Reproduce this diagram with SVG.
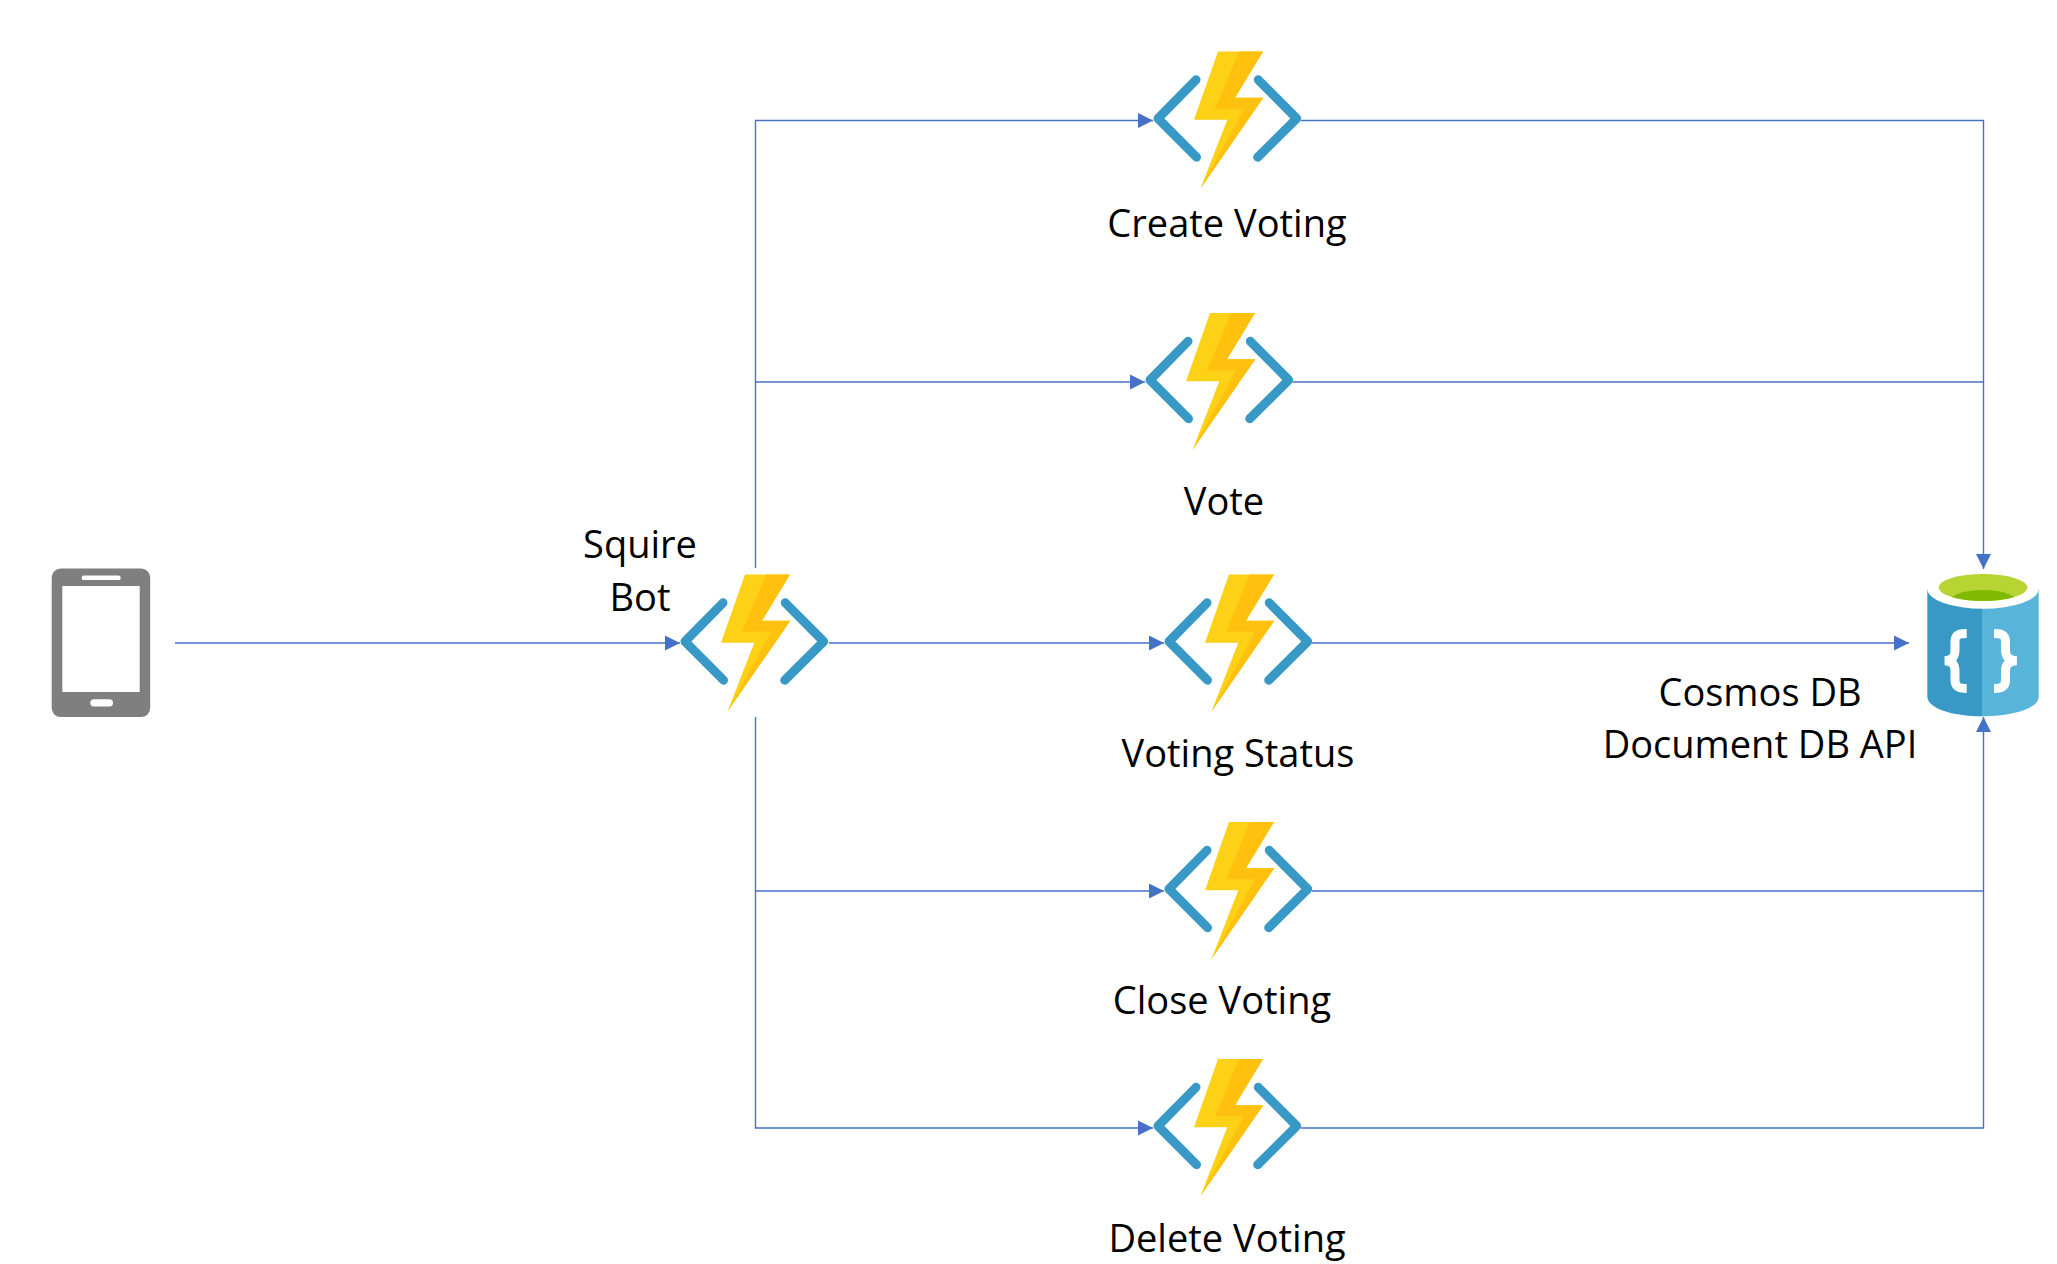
<svg xmlns="http://www.w3.org/2000/svg" width="2057" height="1264" viewBox="0 0 2057 1264">
<style>
.c{fill:none;stroke:#4472c4;stroke-width:1.4;marker-end:url(#a)}
.n{fill:none;stroke:#4472c4;stroke-width:1.4}
.t{font-family:"Open Sans","Noto Sans",sans-serif;font-size:38px;fill:#000;text-anchor:middle}
.b{fill:none;stroke:#3999c6;stroke-width:9;stroke-linecap:round;stroke-linejoin:round}
.w{fill:none;stroke:#fff;stroke-width:9}
</style>
<defs>
<marker id="a" markerUnits="userSpaceOnUse" markerWidth="15" markerHeight="16" refX="15" refY="8" orient="auto"><path d="M0 0.5L15 8L0 15.5Z" fill="#4472c4"/></marker>
<g id="fn">
<path class="b" d="M43 -38.7L5 0L43.5 38.7M105.3 -38.7L143.7 0L104.7 38.7"/>
<path d="M65 -67H110L82 -20.7H110.3L47.5 70L74.3 1.3H41Z" fill="#fcd116"/>
<path d="M86 -67H110L82 -20.7H110.3L47.5 70L91 -9.7H62Z" fill="#ffc10d"/>
</g>
<clipPath id="gc"><ellipse cx="1983" cy="587.5" rx="44.3" ry="13.5"/></clipPath>
</defs>
<rect width="2057" height="1264" fill="#fff"/>
<g id="connectors">
<path class="c" d="M175 643H680"/>
<path class="c" d="M755.5 568V120.5H1153"/>
<path class="c" d="M755.5 382H1145"/>
<path class="c" d="M829 643H1164"/>
<path class="c" d="M755.5 717V1128H1153"/>
<path class="c" d="M755.5 891H1164"/>
<path class="c" d="M1301 120.5H1983.5V569"/>
<path class="n" d="M1293 382H1983.5"/>
<path class="c" d="M1312 643H1909"/>
<path class="c" d="M1301 1128H1983.5V717"/>
<path class="n" d="M1312 891H1983.5"/>
</g>
<g id="phone">
<rect x="51.7" y="568.6" width="98.5" height="148.5" rx="9" fill="#7f7f7f"/>
<rect x="62.3" y="586" width="77.4" height="106" fill="#fff"/>
<rect x="81.7" y="575.6" width="39" height="4.5" rx="2.2" fill="#fff"/>
<rect x="90.3" y="699.3" width="22.7" height="7.3" rx="3.6" fill="#fff"/>
</g>
<g id="squire-bot">
<use href="#fn" x="680" y="641.5"/>
<text class="t" x="640" y="558">Squire</text>
<text class="t" x="640" y="610.5">Bot</text>
</g>
<g id="create-voting">
<use href="#fn" x="1153" y="118.5"/>
<text class="t" x="1227" y="237">Create Voting</text>
</g>
<g id="vote">
<use href="#fn" x="1145" y="380"/>
<text class="t" x="1224" y="515">Vote</text>
</g>
<g id="voting-status">
<use href="#fn" x="1164" y="641.5"/>
<text class="t" x="1238" y="767">Voting Status</text>
</g>
<g id="close-voting">
<use href="#fn" x="1164" y="889"/>
<text class="t" x="1222" y="1014">Close Voting</text>
</g>
<g id="delete-voting">
<use href="#fn" x="1153" y="1126"/>
<text class="t" x="1227" y="1252">Delete Voting</text>
</g>
<g id="cosmos-db">
<path d="M1927.3 589.3V696.7C1927.3 708 1952 716.3 1982 716.3V589.3Z" fill="#3999c6"/>
<path d="M1982 589.3V716.3C2014 716.3 2038.7 708 2038.7 696.7V589.3Z" fill="#59b4d9"/>
<ellipse cx="1983" cy="589" rx="55.7" ry="19.7" fill="#fff"/>
<ellipse cx="1983" cy="587.5" rx="44.3" ry="13.5" fill="#b8d432"/>
<ellipse cx="1983" cy="604" rx="36" ry="14" fill="#7fba00" clip-path="url(#gc)"/>
<path class="w" d="M1966.7 633.5C1958 633.5 1955 635 1955 642V650C1955 657 1952 660 1945 660.8C1952 661.5 1955 664 1955 671V680C1955 686.5 1958 688.5 1966.7 688.5"/>
<path class="w" d="M1994 633.5C2002 633.5 2005.5 635 2005.5 642V650C2005.5 657 2009 660 2016.5 660.8C2009 661.5 2005.5 664 2005.5 671V680C2005.5 686.5 2002 688.5 1994 688.5"/>
<text class="t" x="1760" y="706">Cosmos DB</text>
<text class="t" x="1760" y="758">Document DB API</text>
</g>
</svg>
